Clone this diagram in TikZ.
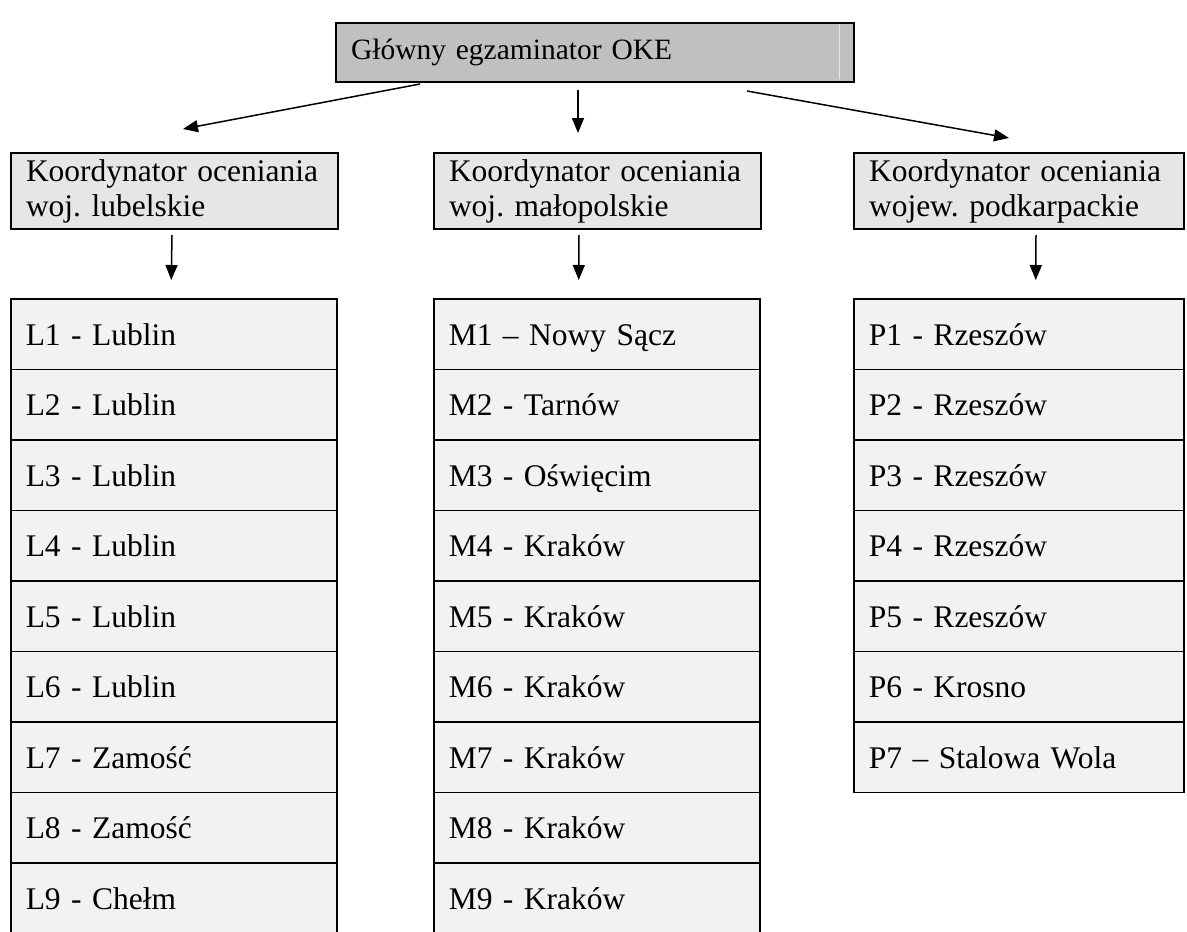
\documentclass[tikz,border=0pt]{standalone}
\usepackage{fontspec}
\setmainfont{Liberation Serif}
\usepackage{tikz}
\usetikzlibrary{arrows.meta,positioning,calc}
\definecolor{headgray}{RGB}{192,192,192}
\definecolor{coordgray}{RGB}{230,230,230}
\definecolor{rowgray}{RGB}{242,242,242}
\frenchspacing

\begin{document}
\begin{tikzpicture}[x=1pt, y=-1pt,
    headbox/.style={draw, line width=2pt, fill=headgray, anchor=north west, minimum height=59pt,
        text width=488pt, inner xsep=15pt, align=left, font=\fontsize{29.5}{33}\selectfont},
    coordbox/.style={draw, line width=2pt, fill=coordgray, anchor=north west, minimum height=76pt,
        inner xsep=15pt, inner ysep=2pt, align=left, font=\fontsize{31.5}{35}\selectfont},
    rowbox/.style={draw, line width=1.5pt, fill=rowgray, anchor=north west, minimum height=70.5pt,
        inner xsep=15pt, text height=25pt, text depth=3pt, align=left, font=\fontsize{31.5}{34}\selectfont},
    link/.style={line width=1.5pt, -{Triangle[length=15pt, width=12pt]}}
]

\useasboundingbox (0, 0) rectangle (1187, 932);

% Head of the scheme
\node[headbox] (oke) at (335, 22) {Główny egzaminator OKE};
\draw[headgray!40!white, line width=1pt] (839, 24) -- (839, 79);

% Coordinators
\node[coordbox, text width=297pt] (lub) at (10, 152) {Koordynator oceniania\\woj. lubelskie};
\node[coordbox, text width=297pt] (mal) at (433, 152) {Koordynator oceniania\\woj. małopolskie};
\node[coordbox, text width=300pt] (pod) at (853, 152) {Koordynator oceniania\\wojew. podkarpackie};

% Lists of teams
\foreach \txt [count=\i] in {L1 - Lublin, L2 - Lublin, L3 - Lublin, L4 - Lublin, L5 - Lublin,
        L6 - Lublin, L7 - Zamość, L8 - Zamość, L9 - Chełm} {
    \node[rowbox, text width=296pt] (L\i) at (10, {298+(\i-1)*70.5}) {\txt};
}
\foreach \txt [count=\i] in {M1 – Nowy Sącz, M2 - Tarnów, M3 - Oświęcim, M4 - Kraków, M5 - Kraków,
        M6 - Kraków, M7 - Kraków, M8 - Kraków, M9 - Kraków} {
    \node[rowbox, text width=296pt] (M\i) at (433, {298+(\i-1)*70.5}) {\txt};
}
\foreach \txt [count=\i] in {P1 - Rzeszów, P2 - Rzeszów, P3 - Rzeszów, P4 - Rzeszów, P5 - Rzeszów,
        P6 - Krosno, P7 – Stalowa Wola} {
    \node[rowbox, text width=300pt] (P\i) at (853, {298+(\i-1)*70.5}) {\txt};
}

% Arrows from the head
\draw[link] ($(oke.south west)+(85, 1)$) -- ($(lub.north)+(8.5, -23)$);
\draw[link] ($(oke.south)+(-17, 7)$) -- ($(mal.north)+(-19.5, -19)$);
\draw[link] ($(oke.south east)+(-108, 8)$) -- ($(pod.north)+(-10, -14)$);

% Arrows to the lists
\draw[link] ($(lub.south)+(-2.5, 5)$) -- ($(L1.north)+(-2.5, -18)$);
\draw[link] ($(mal.south)+(-18.5, 5)$) -- ($(M1.north)+(-18, -18)$);
\draw[link] ($(pod.south)+(17, 5)$) -- ($(P1.north)+(17, -18)$);

\end{tikzpicture}
\end{document}
